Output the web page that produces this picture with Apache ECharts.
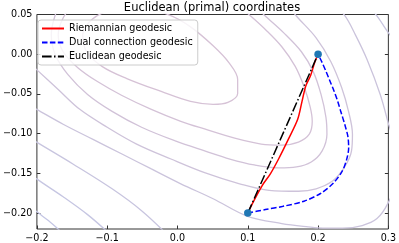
<!DOCTYPE html>
<html>
<head>
<meta charset="utf-8">
<script src="https://cdn.jsdelivr.net/npm/echarts@6/dist/echarts.min.js"></script>
<style>
html,body{margin:0;padding:0;background:#fff;}
#chart{width:399px;height:243px;}
</style>
</head>
<body>
<div id="chart"></div>
<script>
// ---- data ----
const xTicks = [-0.2, -0.1, 0.0, 0.1, 0.2, 0.3];
const yTicks = [-0.20, -0.15, -0.10, -0.05, 0.00, 0.05];
const xRange = [-0.2, 0.3];
const yRange = [-0.22, 0.05];

const endpoints = [[0.1, -0.2], [0.2, 0.0]];

const riemannianGeodesic = [
  [0.1, -0.2], [0.1065, -0.188], [0.1205, -0.1653], [0.1321, -0.1506],
  [0.1438, -0.1319], [0.1578, -0.1069], [0.171, -0.0819], [0.177, -0.06],
  [0.1825, -0.04], [0.1895, -0.0264], [0.1955, -0.0096], [0.2, 0.0]
];
const dualGeodesic = [
  [0.1, -0.2], [0.125, -0.1955], [0.15, -0.1915], [0.18, -0.185],
  [0.204, -0.175], [0.222, -0.162], [0.2345, -0.147], [0.2405, -0.133],
  [0.2435, -0.118], [0.2425, -0.104], [0.2385, -0.09], [0.2321, -0.0715],
  [0.2278, -0.059], [0.2228, -0.0465], [0.217, -0.034], [0.2112, -0.0215],
  [0.2055, -0.01], [0.2, 0.0]
];
const euclideanGeodesic = [[0.1, -0.2], [0.2, 0.0]];

const contour1 = [[-0.093,0.0569],[-0.0511,0.0581],[-0.0121,0.0494],[0.0186,0.0344],[0.0507,0.0106],[0.0731,-0.0106],[0.0856,-0.0319],[0.0856,-0.0494],[0.0717,-0.0606],[0.0507,-0.0631],[0.0186,-0.0594],[-0.0232,-0.0469],[-0.0721,-0.0306],[-0.1069,-0.0156],[-0.1293,0.0031],[-0.1348,0.0244],[-0.1209,0.0444],[-0.093,0.0569]];
const contour2 = [[0.0856,0.0619],[0.1024,0.0494],[0.1257,0.0306],[0.1484,0.0094],[0.1675,-0.0153],[0.1805,-0.0419],[0.1889,-0.0669],[0.1917,-0.0844],[0.1875,-0.1006],[0.1721,-0.1106],[0.1484,-0.1144],[0.1191,-0.1131],[0.0814,-0.1056],[0.0396,-0.0944],[0.0047,-0.0844],[-0.0372,-0.0694],[-0.079,-0.0519],[-0.1139,-0.0344],[-0.1418,-0.0169],[-0.1627,0.0031],[-0.1697,0.0244],[-0.1627,0.0456],[-0.1488,0.0619]];
const contour3 = [[0.1093,0.0619],[0.1233,0.0494],[0.1512,0.0269],[0.1763,0.0031],[0.1931,-0.0219],[0.2042,-0.0506],[0.2112,-0.0794],[0.2126,-0.1006],[0.2056,-0.1219],[0.1903,-0.1356],[0.1693,-0.1419],[0.1442,-0.1431],[0.1093,-0.1394],[0.0745,-0.1319],[0.0396,-0.1219],[-0.0023,-0.1094],[-0.0511,-0.0919],[-0.093,-0.0719],[-0.1279,-0.0506],[-0.1558,-0.0256],[-0.1739,-0.0006],[-0.1795,0.0244],[-0.1739,0.0494],[-0.1655,0.0619]];
const contour4 = [[0.1582,0.0619],[0.1679,0.0494],[0.1972,0.0206],[0.2182,-0.0094],[0.2335,-0.0419],[0.2433,-0.0719],[0.2489,-0.1006],[0.2475,-0.1219],[0.2377,-0.1419],[0.221,-0.1594],[0.1972,-0.1694],[0.1721,-0.1725],[0.1303,-0.1713],[0.0884,-0.1631],[0.0396,-0.1494],[-0.0093,-0.1319],[-0.0581,-0.1131],[-0.1,-0.0919],[-0.139,-0.0694],[-0.1697,-0.0444],[-0.2004,-0.0194],[-0.2186,-0.0044]];
const contour5 = [[0.221,0.0619],[0.2373,0.0494],[0.2531,0.0244],[0.2698,-0.0069],[0.2884,-0.0506],[0.2991,-0.0844],[0.3089,-0.1194],[0.3089,-0.1631],[0.2991,-0.1881],[0.2838,-0.2069],[0.2628,-0.2156],[0.2349,-0.2188],[0.207,-0.2188],[0.1861,-0.2173],[0.1484,-0.2131],[0.0996,-0.204],[0.0507,-0.1819],[0.0047,-0.1631],[-0.0372,-0.1444],[-0.079,-0.1256],[-0.1209,-0.1069],[-0.1627,-0.0881],[-0.2004,-0.0694],[-0.2186,-0.0606]];
const contour6a = [[0.2628,0.0619],[0.2791,0.0531],[0.2991,0.0281],[0.3186,0.0056]];
const contour6b = [[-0.2186,-0.1006],[-0.2004,-0.1106],[-0.1488,-0.1381],[-0.093,-0.1694],[-0.0511,-0.1969],[-0.0162,-0.2256]];
const contour7 = [[-0.2186,-0.1444],[-0.2004,-0.1569],[-0.1627,-0.1794],[-0.1279,-0.2019],[-0.0986,-0.2244]];
const contour8 = [[-0.2186,-0.1844],[-0.2004,-0.1981],[-0.1837,-0.2094],[-0.1669,-0.2225]];

const contours = [contour1, contour2, contour3, contour4, contour5, contour6a, contour6b, contour7, contour8];
const contourColors = ['#d6c2d6','#d4c2d7','#d1c2d8','#cec3da','#cbc4dc','#c8c5df','#c8c5df','#c6c6e2','#c4c6e4'];

// ---- chart ----
const FONT = 'DejaVu Sans';
const fmt = (d) => (v) => {
  if (Math.abs(v) < 1e-9) v = 0;
  return (v < 0 ? '\u2212' : '') + Math.abs(v).toFixed(d);
};

const series = [];
contours.forEach((c, i) => {
  series.push({
    type: 'line', name: 'contour' + i, data: c, smooth: 0.35,
    symbol: 'none', silent: true, z: 1,
    lineStyle: { color: contourColors[i], width: 1.3 }
  });
});
series.push({
  type: 'line', name: 'Riemannian geodesic', data: riemannianGeodesic,
  smooth: 0.3, symbol: 'none', z: 3,
  lineStyle: { color: '#ff0000', width: 1.5 }, itemStyle: { color: '#ff0000' }
});
series.push({
  type: 'line', name: 'Dual connection geodesic', data: dualGeodesic,
  smooth: 0.3, symbol: 'none', z: 4,
  lineStyle: { color: '#0000ff', width: 1.5, type: [5.5, 2.4] }, itemStyle: { color: '#0000ff' }
});
series.push({
  type: 'line', name: 'Euclidean geodesic', data: euclideanGeodesic,
  symbol: 'none', z: 5,
  lineStyle: { color: '#000000', width: 1.5, type: [9.6, 2.4, 1.5, 2.4] }, itemStyle: { color: '#000000' }
});
series.push({
  type: 'scatter', name: 'endpoints', data: endpoints, symbolSize: 7.5, z: 6,
  itemStyle: { color: '#1f77b4', opacity: 1 }
});

const tickStyle = { color: '#333', width: 1 };
const chart = echarts.init(document.getElementById('chart'), null, { renderer: 'canvas' });
chart.setOption({
  animation: false,
  backgroundColor: '#ffffff',
  textStyle: { fontFamily: FONT },
  title: {
    text: 'Euclidean (primal) coordinates',
    left: 212, top: 2.5, padding: 0, textAlign: 'center',
    textStyle: { fontFamily: FONT, fontSize: 11.5, fontWeight: 'normal', color: '#000' }
  },
  grid: {
    left: 33, right: 7, top: 14.5, bottom: 12.5,
    show: true, borderColor: '#333', borderWidth: 1, backgroundColor: 'transparent'
  },
  legend: {
    data: ['Riemannian geodesic', 'Dual connection geodesic', 'Euclidean geodesic'],
    orient: 'vertical', left: 38, top: 20,
    itemWidth: 22, itemHeight: 10, itemGap: 3,
    padding: [3, 5, 3, 3],
    backgroundColor: 'rgba(255,255,255,0.8)',
    borderColor: '#cccccc', borderWidth: 1, borderRadius: 3,
    itemStyle: { opacity: 0 },
    textStyle: { fontFamily: FONT, fontSize: 9.6, color: '#000', lineHeight: 11 },
    selectedMode: false
  },
  xAxis: {
    type: 'value', min: xRange[0], max: xRange[1],
    axisLine: { show: false, onZero: false },
    splitLine: { show: false },
    axisTick: { show: true, inside: true, length: 3.5, lineStyle: tickStyle, customValues: xTicks },
    axisLabel: { fontFamily: FONT, fontSize: 9.6, color: '#000', margin: 4, formatter: fmt(1), customValues: xTicks }
  },
  yAxis: [{
    type: 'value', min: yRange[0], max: yRange[1],
    axisLine: { show: false, onZero: false },
    splitLine: { show: false },
    axisTick: { show: true, inside: true, length: 3.5, lineStyle: tickStyle, customValues: yTicks },
    axisLabel: { fontFamily: FONT, fontSize: 9.6, color: '#000', margin: 4.5, formatter: fmt(2), customValues: yTicks }
  }, {
    type: 'value', position: 'right', min: yRange[0], max: yRange[1],
    axisLine: { show: false, onZero: false },
    splitLine: { show: false },
    axisTick: { show: true, inside: true, length: 3.5, lineStyle: tickStyle, customValues: yTicks },
    axisLabel: { show: false }
  }],
  series: series
});
</script>
</body>
</html>
